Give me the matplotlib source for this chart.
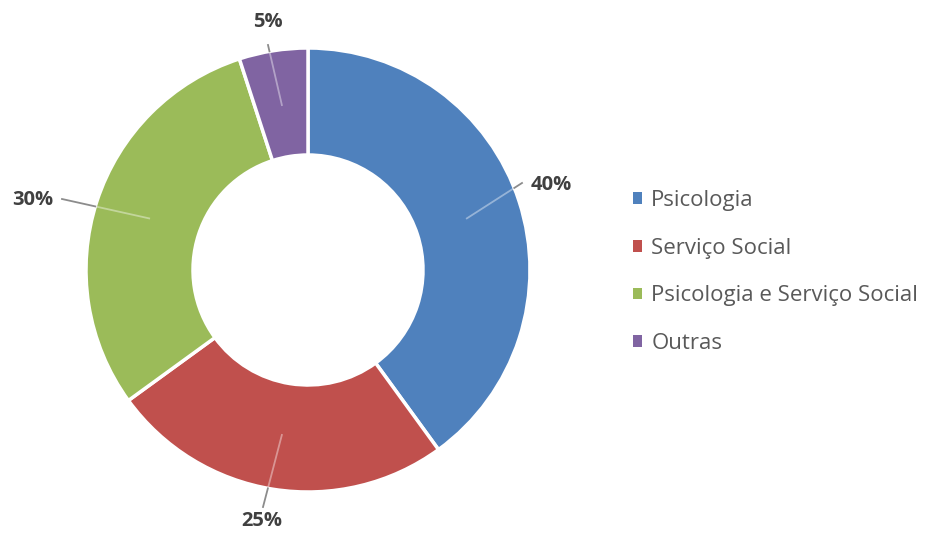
import numpy as np
import matplotlib.pyplot as plt
from matplotlib.patches import Patch

categories = ['Psicologia', 'Serviço Social', 'Psicologia e Serviço Social', 'Outras']
shares = [40, 25, 30, 5]
colors = ['#4F81BD', '#C0504D', '#9BBB59', '#8064A2']

W, H = 935, 533
cx, cy = 308, H - 270
r_out, r_in = 222, 115

# where each percentage label sits, relative to the centre (px), and where its leader line stops
label_pos = [(223, 85, 'left'), (-46, -251, 'center'), (-255, 70, 'right'), (-40, 248, 'center')]
line_end = [(214, 87), (-45, -237), (-246, 71), (-40, 225)]

plt.rcParams['font.family'] = ['Open Sans', 'DejaVu Sans']

fig = plt.figure(figsize=(W / 100, H / 100), dpi=100)
ax = fig.add_axes([0, 0, 1, 1])
wedges, _ = ax.pie(shares, colors=colors, startangle=90, counterclock=False,
                   radius=r_out, center=(cx, cy),
                   wedgeprops=dict(width=r_out - r_in, edgecolor='white', linewidth=2.5))
ax.set_xlim(0, W)
ax.set_ylim(0, H)
ax.set_aspect('equal')
ax.axis('off')

for w, val, (lx, ly, ha), (ex, ey) in zip(wedges, shares, label_pos, line_end):
    mid = np.deg2rad((w.theta1 + w.theta2) / 2)
    p0 = np.array([cx + 167 * np.cos(mid), cy + 167 * np.sin(mid)])
    p1 = np.array([cx + ex, cy + ey])
    # split the leader line where it crosses the outer edge of the ring
    d = p1 - p0
    f = p0 - np.array([cx, cy])
    a, b, c = d @ d, 2 * f @ d, f @ f - r_out ** 2
    t = (-b + np.sqrt(b * b - 4 * a * c)) / (2 * a)
    pe = p0 + t * d
    ax.plot([p0[0], pe[0]], [p0[1], pe[1]], color='white', alpha=0.4, lw=1.3, zorder=3)
    ax.plot([pe[0], p1[0]], [pe[1], p1[1]], color='#8c8c8c', lw=1.3, zorder=3)
    ax.text(cx + lx, cy + ly, f'{val}%', ha=ha, va='center', fontsize=14.5,
            fontweight='bold', color='#404040')

handles = [Patch(facecolor=col, edgecolor='none') for col in colors]
fig.legend(handles, categories, loc='upper left', bbox_to_anchor=(622 / W, 1 - 179 / H),
           frameon=False, fontsize=16, labelcolor='#595959', handlelength=0.42,
           handleheight=0.42, handletextpad=0.4, labelspacing=1.2, borderpad=0)

fig.savefig('out.png', dpi=100)
